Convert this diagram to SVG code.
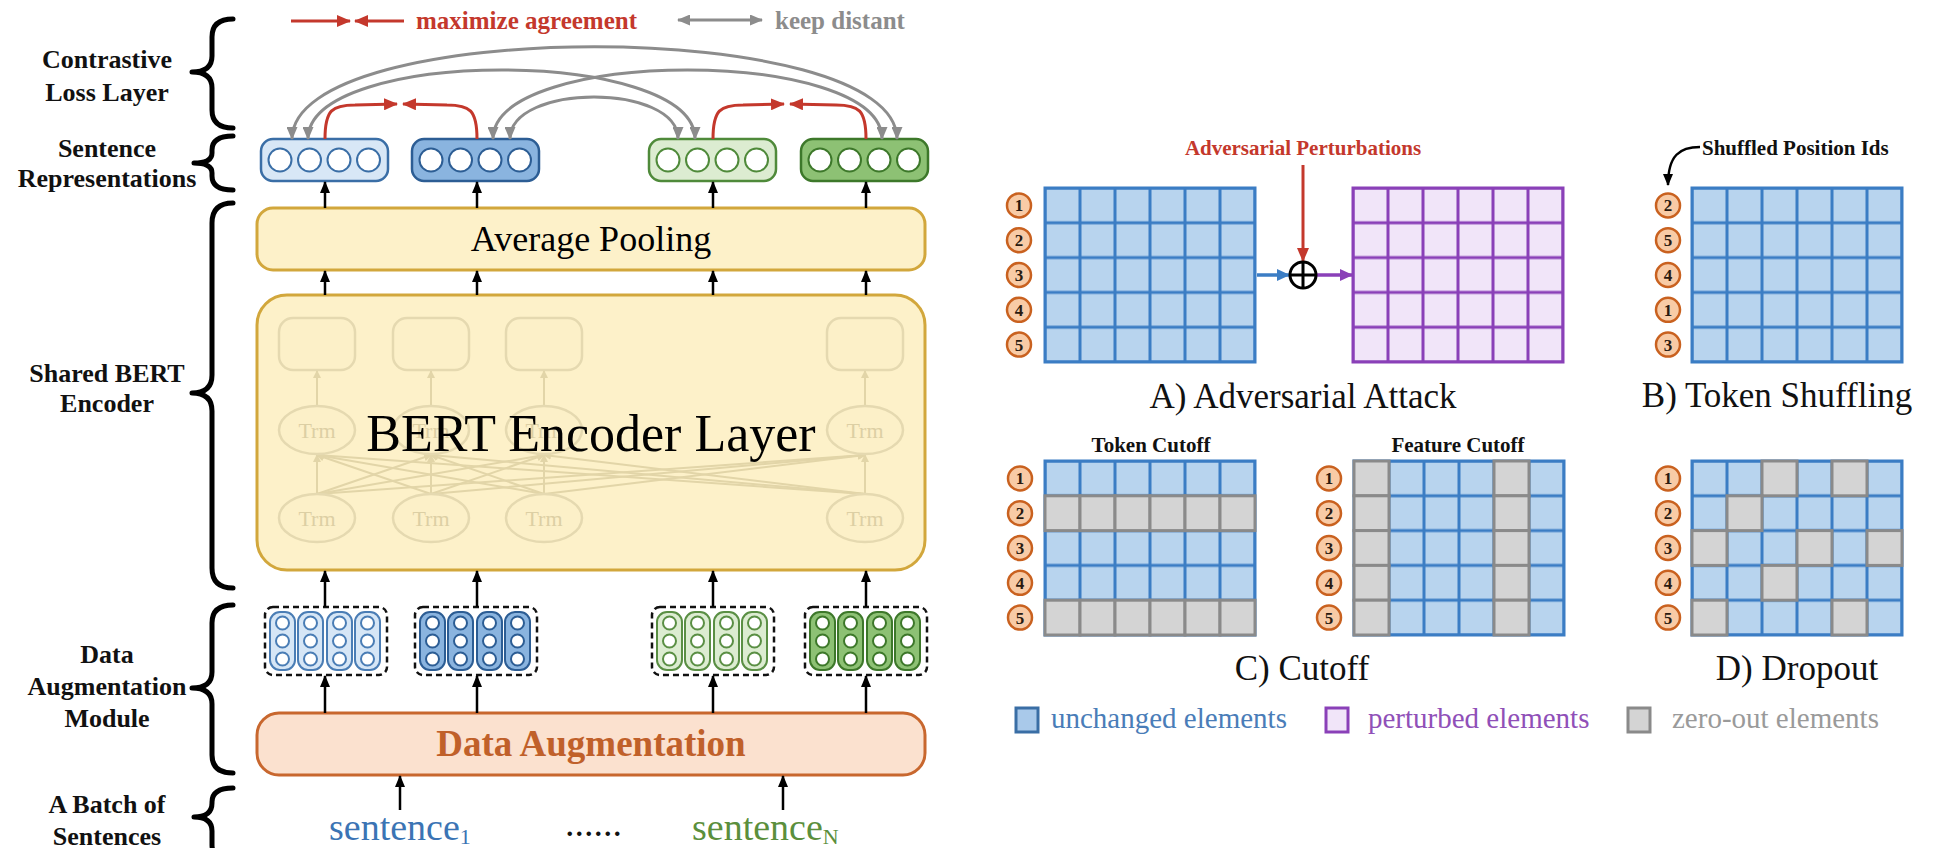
<svg xmlns="http://www.w3.org/2000/svg" xmlns:xlink="http://www.w3.org/1999/xlink" width="1943" height="848" viewBox="0 0 1943 848">
<style>
.lbl{font-family:"Liberation Serif","Times New Roman",serif;font-weight:bold;font-size:26px;fill:#111;text-anchor:middle}
.serif{font-family:"Liberation Serif","Times New Roman",serif}
.brace{fill:none;stroke:#000;stroke-width:5;stroke-linecap:round;stroke-linejoin:round}
.blk{stroke:#000;stroke-width:2.5;fill:none;marker-end:url(#mBlack)}
.gray{stroke:#8c8c8c;stroke-width:3;fill:none;marker-start:url(#mGray);marker-end:url(#mGray)}
.red{stroke:#c4382c;stroke-width:3;fill:none;marker-end:url(#mRed)}
.rc{fill:#fff;stroke-width:2}
.faded{stroke:#e2d5a8;stroke-width:2;fill:none}
.fadedshape{fill:#fcf0c8;stroke:#e5d9b0;stroke-width:2.5}
.trm{font-family:"Liberation Serif","Times New Roman",serif;font-size:22px;fill:#dccfa4;text-anchor:middle}
.num circle{fill:#f8cba6;stroke:#c9611f;stroke-width:2.5}
.num text{font-family:"Liberation Serif","Times New Roman",serif;font-size:17px;font-weight:bold;fill:#2a1a10;text-anchor:middle}
.gcell{fill:#d4d4d4;stroke:#8a8a8a;stroke-width:3}
.cap{font-family:"Liberation Serif","Times New Roman",serif;font-size:35px;fill:#111;text-anchor:middle}
.small{font-family:"Liberation Serif","Times New Roman",serif;font-size:21px;font-weight:bold;text-anchor:middle;fill:#111}
</style>
<defs>
<marker id="mBlack" markerUnits="userSpaceOnUse" viewBox="0 0 12 10" markerWidth="12" markerHeight="10" refX="11" refY="5" orient="auto"><path d="M0,0 L12,5 L0,10 z" fill="#000"/></marker>
<marker id="mGray" markerUnits="userSpaceOnUse" viewBox="0 0 13 11" markerWidth="13" markerHeight="11" refX="12" refY="5.5" orient="auto-start-reverse"><path d="M0,0 L13,5.5 L0,11 z" fill="#8c8c8c"/></marker>
<marker id="mRed" markerUnits="userSpaceOnUse" viewBox="0 0 14 12" markerWidth="14" markerHeight="12" refX="13" refY="6" orient="auto"><path d="M0,0 L14,6 L0,12 z" fill="#c4382c"/></marker>
<marker id="mBlue" markerUnits="userSpaceOnUse" viewBox="0 0 13 12" markerWidth="13" markerHeight="12" refX="12" refY="6" orient="auto"><path d="M0,0 L13,6 L0,12 z" fill="#3b7dc4"/></marker>
<marker id="mPurple" markerUnits="userSpaceOnUse" viewBox="0 0 13 12" markerWidth="13" markerHeight="12" refX="12" refY="6" orient="auto"><path d="M0,0 L13,6 L0,12 z" fill="#8a40b8"/></marker>
<marker id="mFade" markerUnits="userSpaceOnUse" viewBox="0 0 8 8" markerWidth="8" markerHeight="8" refX="7" refY="4" orient="auto"><path d="M0,0 L8,4 L0,8 z" fill="#e2d5a8"/></marker>
<pattern id="pBlue" patternUnits="userSpaceOnUse" width="35" height="34.8"><rect width="35" height="34.8" fill="#b8d4ee"/><path d="M0,0H35M0,34.8H35M0,0V34.8M35,0V34.8" stroke="#3b7dc4" stroke-width="3"/></pattern>
<pattern id="pPurple" patternUnits="userSpaceOnUse" width="35" height="34.8"><rect width="35" height="34.8" fill="#f1e5f9"/><path d="M0,0H35M0,34.8H35M0,0V34.8M35,0V34.8" stroke="#8a40b8" stroke-width="3"/></pattern>
</defs>
<rect width="1943" height="848" fill="#fff"/>

<!-- top legend -->
<g id="legend-top">
<line x1="291" y1="21" x2="350" y2="21" class="red"/>
<line x1="404" y1="21" x2="355" y2="21" class="red"/>
<text x="416" y="29" class="serif" font-size="25" font-weight="bold" fill="#c4382c">maximize agreement</text>
<line x1="678" y1="20" x2="762" y2="20" class="gray"/>
<text x="775" y="29" class="serif" font-size="25" font-weight="bold" fill="#8c8c8c">keep distant</text>
</g>

<!-- left labels and braces -->
<g id="label-contrastive">
<text class="lbl" x="107" y="68">Contrastive</text><text class="lbl" x="107" y="101">Loss Layer</text>
<path class="brace" d="M233,19 Q212,19 212,37 L212,56 Q212,72 192,72 Q212,72 212,88 L212,110 Q212,128 233,128"/>
</g>
<g id="label-sentrep">
<text class="lbl" x="107" y="157">Sentence</text><text class="lbl" x="107" y="187">Representations</text>
<path class="brace" d="M233,136 Q212,136 212,150 L212,153 Q212,163 194,163 Q212,163 212,173 L212,176 Q212,190 233,190"/>
</g>
<g id="label-bert">
<text class="lbl" x="107" y="382">Shared BERT</text><text class="lbl" x="107" y="412">Encoder</text>
<path class="brace" d="M233,203 Q212,203 212,223 L212,375 Q212,393 192,393 Q212,393 212,411 L212,568 Q212,588 233,588"/>
</g>
<g id="label-aug">
<text class="lbl" x="107" y="663">Data</text><text class="lbl" x="107" y="695">Augmentation</text><text class="lbl" x="107" y="727">Module</text>
<path class="brace" d="M233,605 Q212,605 212,623 L212,672 Q212,688 192,688 Q212,688 212,704 L212,755 Q212,773 233,773"/>
</g>
<g id="label-batch">
<text class="lbl" x="107" y="813">A Batch of</text><text class="lbl" x="107" y="845">Sentences</text>
<path class="brace" d="M233,788 Q212,788 212,802 L212,803 Q212,817 194,817 Q212,817 212,831 L212,845 Q212,860 233,860"/>
</g>

<!-- BERT encoder -->
<g id="bert-encoder">
<rect x="257" y="295" width="668" height="275" rx="30" fill="#fdf1c9" stroke="#d2a73c" stroke-width="3"/>
<g>
<rect class="fadedshape" x="279" y="318" width="76" height="52" rx="14"/>
<rect class="fadedshape" x="393" y="318" width="76" height="52" rx="14"/>
<rect class="fadedshape" x="506" y="318" width="76" height="52" rx="14"/>
<rect class="fadedshape" x="827" y="318" width="76" height="52" rx="14"/>
<g class="faded" marker-end="url(#mFade)">
<line x1="317" y1="406" x2="317" y2="371"/><line x1="431" y1="406" x2="431" y2="371"/><line x1="544" y1="406" x2="544" y2="371"/><line x1="865" y1="406" x2="865" y2="371"/>
<line x1="317" y1="494" x2="317" y2="455"/><line x1="317" y1="494" x2="431" y2="455"/><line x1="317" y1="494" x2="544" y2="455"/><line x1="317" y1="494" x2="865" y2="455"/>
<line x1="431" y1="494" x2="317" y2="455"/><line x1="431" y1="494" x2="431" y2="455"/><line x1="431" y1="494" x2="544" y2="455"/><line x1="431" y1="494" x2="865" y2="455"/>
<line x1="544" y1="494" x2="317" y2="455"/><line x1="544" y1="494" x2="431" y2="455"/><line x1="544" y1="494" x2="544" y2="455"/><line x1="544" y1="494" x2="865" y2="455"/>
<line x1="865" y1="494" x2="317" y2="455"/><line x1="865" y1="494" x2="431" y2="455"/><line x1="865" y1="494" x2="544" y2="455"/><line x1="865" y1="494" x2="865" y2="455"/>
</g>
<ellipse class="fadedshape" cx="317" cy="430" rx="38" ry="24"/><ellipse class="fadedshape" cx="431" cy="430" rx="38" ry="24"/><ellipse class="fadedshape" cx="544" cy="430" rx="38" ry="24"/><ellipse class="fadedshape" cx="865" cy="430" rx="38" ry="24"/>
<ellipse class="fadedshape" cx="317" cy="518" rx="38" ry="24"/><ellipse class="fadedshape" cx="431" cy="518" rx="38" ry="24"/><ellipse class="fadedshape" cx="544" cy="518" rx="38" ry="24"/><ellipse class="fadedshape" cx="865" cy="518" rx="38" ry="24"/>
<text class="trm" x="317" y="438">Trm</text><text class="trm" x="431" y="438">Trm</text><text class="trm" x="544" y="438">Trm</text><text class="trm" x="865" y="438">Trm</text>
<text class="trm" x="317" y="526">Trm</text><text class="trm" x="431" y="526">Trm</text><text class="trm" x="544" y="526">Trm</text><text class="trm" x="865" y="526">Trm</text>
</g>
<text x="591" y="451" class="serif" font-size="52" text-anchor="middle" fill="#000">BERT Encoder Layer</text>
</g>

<g id="avg-pooling">
<rect x="257" y="208" width="668" height="62" rx="16" fill="#fdf1c9" stroke="#d2a73c" stroke-width="3"/>
<text x="591" y="251" class="serif" font-size="36" text-anchor="middle" fill="#000">Average Pooling</text>
</g>

<g id="data-augmentation">
<rect x="257" y="713" width="668" height="62" rx="22" fill="#fbe1cf" stroke="#c8672e" stroke-width="3"/>
<text x="591" y="756" class="serif" font-size="37" font-weight="bold" text-anchor="middle" fill="#c0602a">Data Augmentation</text>
</g>

<!-- sentence representations -->
<g id="rep1">
<rect x="261" y="139" width="127" height="42" rx="12" fill="#d8e7f6" stroke="#3a6ea6" stroke-width="2.5"/>
<g class="rc" stroke="#3a6ea6"><circle cx="280" cy="160" r="11.5"/><circle cx="309.5" cy="160" r="11.5"/><circle cx="339" cy="160" r="11.5"/><circle cx="368.5" cy="160" r="11.5"/></g>
</g>
<g id="rep2">
<rect x="412" y="139" width="127" height="42" rx="12" fill="#8ab4df" stroke="#2c5d94" stroke-width="2.5"/>
<g class="rc" stroke="#2c5d94"><circle cx="431" cy="160" r="11.5"/><circle cx="460.5" cy="160" r="11.5"/><circle cx="490" cy="160" r="11.5"/><circle cx="519.5" cy="160" r="11.5"/></g>
</g>
<g id="rep3">
<rect x="649" y="139" width="127" height="42" rx="12" fill="#dcecd1" stroke="#4f8a3a" stroke-width="2.5"/>
<g class="rc" stroke="#4f8a3a"><circle cx="668" cy="160" r="11.5"/><circle cx="697.5" cy="160" r="11.5"/><circle cx="727" cy="160" r="11.5"/><circle cx="756.5" cy="160" r="11.5"/></g>
</g>
<g id="rep4">
<rect x="801" y="139" width="127" height="42" rx="12" fill="#8dc174" stroke="#3d782a" stroke-width="2.5"/>
<g class="rc" stroke="#3d782a"><circle cx="820" cy="160" r="11.5"/><circle cx="849.5" cy="160" r="11.5"/><circle cx="879" cy="160" r="11.5"/><circle cx="908.5" cy="160" r="11.5"/></g>
</g>

<!-- augmented views -->
<g id="aug1">
<rect x="265" y="607" width="122" height="68" rx="8" fill="none" stroke="#111" stroke-width="2.5" stroke-dasharray="6 4"/>
<g fill="#d6e6f6" stroke="#4a7db5" stroke-width="2"><rect x="270" y="612" width="25" height="58" rx="10"/><rect x="298" y="612" width="25" height="58" rx="10"/><rect x="327" y="612" width="25" height="58" rx="10"/><rect x="355" y="612" width="25" height="58" rx="10"/></g>
<g fill="#fff" stroke="#4a7db5" stroke-width="2">
<circle cx="282.5" cy="623" r="6.5"/><circle cx="282.5" cy="641" r="6.5"/><circle cx="282.5" cy="659" r="6.5"/>
<circle cx="310.5" cy="623" r="6.5"/><circle cx="310.5" cy="641" r="6.5"/><circle cx="310.5" cy="659" r="6.5"/>
<circle cx="339.5" cy="623" r="6.5"/><circle cx="339.5" cy="641" r="6.5"/><circle cx="339.5" cy="659" r="6.5"/>
<circle cx="367.5" cy="623" r="6.5"/><circle cx="367.5" cy="641" r="6.5"/><circle cx="367.5" cy="659" r="6.5"/>
</g>
</g>
<g id="aug2">
<rect x="415" y="607" width="122" height="68" rx="8" fill="none" stroke="#111" stroke-width="2.5" stroke-dasharray="6 4"/>
<g fill="#8ab4df" stroke="#2c5d94" stroke-width="2"><rect x="420" y="612" width="25" height="58" rx="10"/><rect x="448" y="612" width="25" height="58" rx="10"/><rect x="477" y="612" width="25" height="58" rx="10"/><rect x="505" y="612" width="25" height="58" rx="10"/></g>
<g fill="#fff" stroke="#2c5d94" stroke-width="2">
<circle cx="432.5" cy="623" r="6.5"/><circle cx="432.5" cy="641" r="6.5"/><circle cx="432.5" cy="659" r="6.5"/>
<circle cx="460.5" cy="623" r="6.5"/><circle cx="460.5" cy="641" r="6.5"/><circle cx="460.5" cy="659" r="6.5"/>
<circle cx="489.5" cy="623" r="6.5"/><circle cx="489.5" cy="641" r="6.5"/><circle cx="489.5" cy="659" r="6.5"/>
<circle cx="517.5" cy="623" r="6.5"/><circle cx="517.5" cy="641" r="6.5"/><circle cx="517.5" cy="659" r="6.5"/>
</g>
</g>
<g id="aug3">
<rect x="652" y="607" width="122" height="68" rx="8" fill="none" stroke="#111" stroke-width="2.5" stroke-dasharray="6 4"/>
<g fill="#dcecd1" stroke="#5a8f44" stroke-width="2"><rect x="657" y="612" width="25" height="58" rx="10"/><rect x="685" y="612" width="25" height="58" rx="10"/><rect x="714" y="612" width="25" height="58" rx="10"/><rect x="742" y="612" width="25" height="58" rx="10"/></g>
<g fill="#fff" stroke="#5a8f44" stroke-width="2">
<circle cx="669.5" cy="623" r="6.5"/><circle cx="669.5" cy="641" r="6.5"/><circle cx="669.5" cy="659" r="6.5"/>
<circle cx="697.5" cy="623" r="6.5"/><circle cx="697.5" cy="641" r="6.5"/><circle cx="697.5" cy="659" r="6.5"/>
<circle cx="726.5" cy="623" r="6.5"/><circle cx="726.5" cy="641" r="6.5"/><circle cx="726.5" cy="659" r="6.5"/>
<circle cx="754.5" cy="623" r="6.5"/><circle cx="754.5" cy="641" r="6.5"/><circle cx="754.5" cy="659" r="6.5"/>
</g>
</g>
<g id="aug4">
<rect x="805" y="607" width="122" height="68" rx="8" fill="none" stroke="#111" stroke-width="2.5" stroke-dasharray="6 4"/>
<g fill="#8dc174" stroke="#3d782a" stroke-width="2"><rect x="810" y="612" width="25" height="58" rx="10"/><rect x="838" y="612" width="25" height="58" rx="10"/><rect x="867" y="612" width="25" height="58" rx="10"/><rect x="895" y="612" width="25" height="58" rx="10"/></g>
<g fill="#fff" stroke="#3d782a" stroke-width="2">
<circle cx="822.5" cy="623" r="6.5"/><circle cx="822.5" cy="641" r="6.5"/><circle cx="822.5" cy="659" r="6.5"/>
<circle cx="850.5" cy="623" r="6.5"/><circle cx="850.5" cy="641" r="6.5"/><circle cx="850.5" cy="659" r="6.5"/>
<circle cx="879.5" cy="623" r="6.5"/><circle cx="879.5" cy="641" r="6.5"/><circle cx="879.5" cy="659" r="6.5"/>
<circle cx="907.5" cy="623" r="6.5"/><circle cx="907.5" cy="641" r="6.5"/><circle cx="907.5" cy="659" r="6.5"/>
</g>
</g>

<!-- sentences -->
<g id="sentences">
<text x="329" y="840" class="serif" font-size="38" fill="#3b74b4">sentence<tspan font-size="22" dy="4">1</tspan></text>
<text x="565" y="836" class="serif" font-size="38" fill="#111">......</text>
<text x="692" y="840" class="serif" font-size="38" fill="#5b8f3c">sentence<tspan font-size="22" dy="4">N</tspan></text>
</g>

<!-- connectors -->
<g id="connectors">
<line class="blk" x1="325" y1="208" x2="325" y2="182"/><line class="blk" x1="477" y1="208" x2="477" y2="182"/><line class="blk" x1="713" y1="208" x2="713" y2="182"/><line class="blk" x1="866" y1="208" x2="866" y2="182"/>
<line class="blk" x1="325" y1="295" x2="325" y2="271"/><line class="blk" x1="477" y1="295" x2="477" y2="271"/><line class="blk" x1="713" y1="295" x2="713" y2="271"/><line class="blk" x1="866" y1="295" x2="866" y2="271"/>
<line class="blk" x1="325" y1="607" x2="325" y2="571"/><line class="blk" x1="477" y1="607" x2="477" y2="571"/><line class="blk" x1="713" y1="607" x2="713" y2="571"/><line class="blk" x1="866" y1="607" x2="866" y2="571"/>
<line class="blk" x1="325" y1="713" x2="325" y2="676"/><line class="blk" x1="477" y1="713" x2="477" y2="676"/><line class="blk" x1="713" y1="713" x2="713" y2="676"/><line class="blk" x1="866" y1="713" x2="866" y2="676"/>
<line class="blk" x1="400" y1="810" x2="400" y2="776"/><line class="blk" x1="783" y1="810" x2="783" y2="776"/>
<path class="gray" d="M292,139 C292,16 897,16 897,139"/>
<path class="gray" d="M308,139 C308,47 695,47 695,139"/>
<path class="gray" d="M493,139 C493,47 882,47 882,139"/>
<path class="gray" d="M510,139 C510,83 678,83 678,139"/>
<path class="red" d="M325,139 C325,110 332,105 355,105 L397,104"/>
<path class="red" d="M477,139 C477,110 470,105 447,105 L403,104"/>
<path class="red" d="M713,139 C713,110 720,105 743,105 L784,104"/>
<path class="red" d="M866,139 C866,110 859,105 836,105 L790,104"/>
</g>

<!-- right panel: A) adversarial attack -->
<g id="grid-a">
<g transform="translate(1045,188)"><rect width="210" height="174" fill="url(#pBlue)" stroke="#3b7dc4" stroke-width="3"/></g>
<g class="num"><circle cx="1019" cy="205.4" r="12"/><text x="1019" y="211.4">1</text><circle cx="1019" cy="240.2" r="12"/><text x="1019" y="246.2">2</text><circle cx="1019" cy="275" r="12"/><text x="1019" y="281">3</text><circle cx="1019" cy="309.8" r="12"/><text x="1019" y="315.8">4</text><circle cx="1019" cy="344.6" r="12"/><text x="1019" y="350.6">5</text></g>
</g>
<g id="grid-a-perturbed">
<g transform="translate(1353,188)"><rect width="210" height="174" fill="url(#pPurple)" stroke="#8a40b8" stroke-width="3"/></g>
</g>
<g id="perturbation">
<text x="1303" y="155" class="small" style="fill:#c4382c">Adversarial Perturbations</text>
<line x1="1303" y1="165" x2="1303" y2="261" stroke="#c4382c" stroke-width="3" marker-end="url(#mRed)"/>
<line x1="1257" y1="275" x2="1289" y2="275" stroke="#3b7dc4" stroke-width="3.5" marker-end="url(#mBlue)"/>
<line x1="1316" y1="275" x2="1352" y2="275" stroke="#8a40b8" stroke-width="3.5" marker-end="url(#mPurple)"/>
<circle cx="1303" cy="275" r="13" fill="#fff" stroke="#000" stroke-width="3"/>
<path d="M1290,275H1316M1303,262V288" stroke="#000" stroke-width="3"/>
<text x="1303" y="408" class="cap">A) Adversarial Attack</text>
</g>

<!-- B) token shuffling -->
<g id="grid-b">
<g transform="translate(1692,188)"><rect width="210" height="174" fill="url(#pBlue)" stroke="#3b7dc4" stroke-width="3"/></g>
<g class="num"><circle cx="1668" cy="205.4" r="12"/><text x="1668" y="211.4">2</text><circle cx="1668" cy="240.2" r="12"/><text x="1668" y="246.2">5</text><circle cx="1668" cy="275" r="12"/><text x="1668" y="281">4</text><circle cx="1668" cy="309.8" r="12"/><text x="1668" y="315.8">1</text><circle cx="1668" cy="344.6" r="12"/><text x="1668" y="350.6">3</text></g>
<text x="1702" y="155" class="small" style="text-anchor:start">Shuffled Position Ids</text>
<path d="M1700,147 C1680,147 1668,155 1668,185" stroke="#000" stroke-width="2.5" fill="none" marker-end="url(#mBlack)"/>
<text x="1777" y="407" class="cap">B) Token Shuffling</text>
</g>

<!-- C) cutoff -->
<g id="grid-token-cutoff">
<text x="1151" y="452" class="small">Token Cutoff</text>
<g transform="translate(1045,461)"><rect width="210" height="174" fill="url(#pBlue)" stroke="#3b7dc4" stroke-width="3"/>
<g class="gcell"><rect x="0" y="34.8" width="35" height="34.8"/><rect x="35" y="34.8" width="35" height="34.8"/><rect x="70" y="34.8" width="35" height="34.8"/><rect x="105" y="34.8" width="35" height="34.8"/><rect x="140" y="34.8" width="35" height="34.8"/><rect x="175" y="34.8" width="35" height="34.8"/>
<rect x="0" y="139.2" width="35" height="34.8"/><rect x="35" y="139.2" width="35" height="34.8"/><rect x="70" y="139.2" width="35" height="34.8"/><rect x="105" y="139.2" width="35" height="34.8"/><rect x="140" y="139.2" width="35" height="34.8"/><rect x="175" y="139.2" width="35" height="34.8"/></g></g>
<g class="num"><circle cx="1020" cy="478.4" r="12"/><text x="1020" y="484.4">1</text><circle cx="1020" cy="513.2" r="12"/><text x="1020" y="519.2">2</text><circle cx="1020" cy="548" r="12"/><text x="1020" y="554">3</text><circle cx="1020" cy="582.8" r="12"/><text x="1020" y="588.8">4</text><circle cx="1020" cy="617.6" r="12"/><text x="1020" y="623.6">5</text></g>
</g>
<g id="grid-feature-cutoff">
<text x="1458" y="452" class="small">Feature Cutoff</text>
<g transform="translate(1354,461)"><rect width="210" height="174" fill="url(#pBlue)" stroke="#3b7dc4" stroke-width="3"/>
<g class="gcell"><rect x="0" y="0" width="35" height="34.8"/><rect x="0" y="34.8" width="35" height="34.8"/><rect x="0" y="69.6" width="35" height="34.8"/><rect x="0" y="104.4" width="35" height="34.8"/><rect x="0" y="139.2" width="35" height="34.8"/>
<rect x="140" y="0" width="35" height="34.8"/><rect x="140" y="34.8" width="35" height="34.8"/><rect x="140" y="69.6" width="35" height="34.8"/><rect x="140" y="104.4" width="35" height="34.8"/><rect x="140" y="139.2" width="35" height="34.8"/></g></g>
<g class="num"><circle cx="1329" cy="478.4" r="12"/><text x="1329" y="484.4">1</text><circle cx="1329" cy="513.2" r="12"/><text x="1329" y="519.2">2</text><circle cx="1329" cy="548" r="12"/><text x="1329" y="554">3</text><circle cx="1329" cy="582.8" r="12"/><text x="1329" y="588.8">4</text><circle cx="1329" cy="617.6" r="12"/><text x="1329" y="623.6">5</text></g>
<text x="1302" y="680" class="cap">C) Cutoff</text>
</g>

<!-- D) dropout -->
<g id="grid-dropout">
<g transform="translate(1692,461)"><rect width="210" height="174" fill="url(#pBlue)" stroke="#3b7dc4" stroke-width="3"/>
<g class="gcell"><rect x="70" y="0" width="35" height="34.8"/><rect x="140" y="0" width="35" height="34.8"/>
<rect x="35" y="34.8" width="35" height="34.8"/>
<rect x="0" y="69.6" width="35" height="34.8"/><rect x="105" y="69.6" width="35" height="34.8"/><rect x="175" y="69.6" width="35" height="34.8"/>
<rect x="70" y="104.4" width="35" height="34.8"/>
<rect x="0" y="139.2" width="35" height="34.8"/><rect x="140" y="139.2" width="35" height="34.8"/></g></g>
<g class="num"><circle cx="1668" cy="478.4" r="12"/><text x="1668" y="484.4">1</text><circle cx="1668" cy="513.2" r="12"/><text x="1668" y="519.2">2</text><circle cx="1668" cy="548" r="12"/><text x="1668" y="554">3</text><circle cx="1668" cy="582.8" r="12"/><text x="1668" y="588.8">4</text><circle cx="1668" cy="617.6" r="12"/><text x="1668" y="623.6">5</text></g>
<text x="1797" y="680" class="cap">D) Dropout</text>
</g>

<!-- bottom legend -->
<g id="legend-bottom">
<rect x="1016" y="708" width="22" height="24" fill="#a9c9ea" stroke="#3a6ea5" stroke-width="3"/>
<text x="1051" y="728" class="serif" font-size="29" fill="#4a7db8">unchanged elements</text>
<rect x="1326" y="708" width="22" height="24" fill="#f1e5f9" stroke="#8a40b8" stroke-width="3"/>
<text x="1368" y="728" class="serif" font-size="29" fill="#9050b8">perturbed elements</text>
<rect x="1628" y="708" width="22" height="24" fill="#d4d4d4" stroke="#8a8a8a" stroke-width="3"/>
<text x="1672" y="728" class="serif" font-size="29" fill="#9a9a9a">zero-out elements</text>
</g>
</svg>
